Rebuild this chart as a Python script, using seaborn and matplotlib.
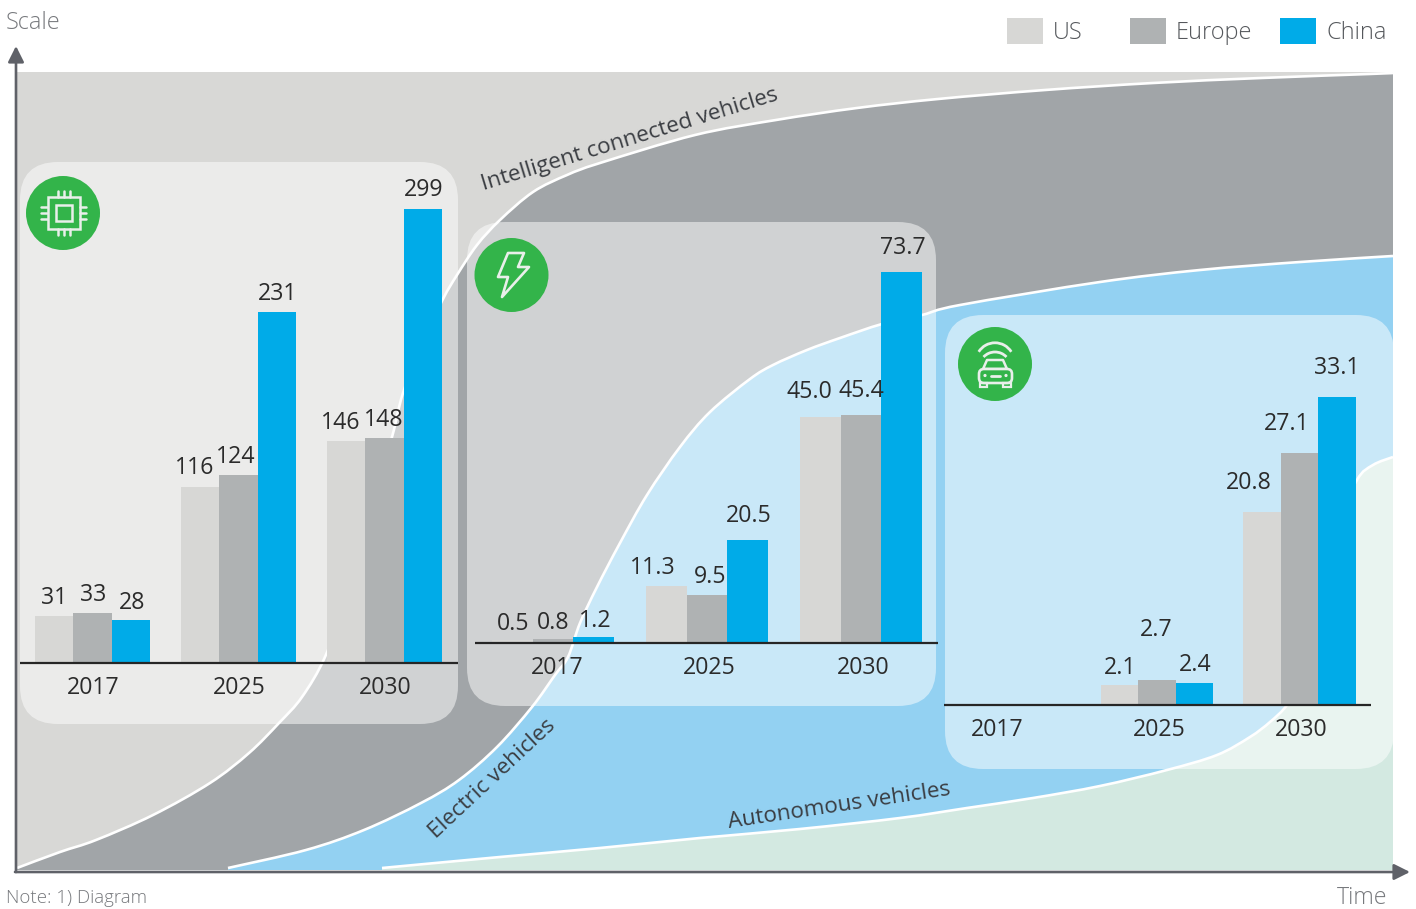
import numpy as np
import pandas as pd
import seaborn as sns
import matplotlib.pyplot as plt
from matplotlib.path import Path
from matplotlib.patches import FancyBboxPatch, Circle, Rectangle, Polygon, Arc, PathPatch

# background curves (pixels)
ICV_X = [17, 60, 96, 153, 210, 249, 279, 302, 325, 345, 370, 392, 403, 423, 443, 457, 477, 500, 533, 567, 600, 695, 776, 857, 938, 1045, 1153, 1261, 1369, 1393]
ICV_Y = [868, 852, 840, 815, 783, 753, 723, 697, 657, 600, 510, 437, 393, 342, 299, 275, 245, 220, 192, 175, 163, 135, 120, 108, 99, 90, 83, 78, 74, 73]
EV_X = [228, 306, 364, 421, 459, 497, 532, 555, 568, 580, 597, 620, 647, 680, 710, 750, 773, 807, 840, 882, 922, 960, 1100, 1200, 1300, 1393]
EV_Y = [868, 850, 830, 803, 780, 747, 707, 675, 657, 623, 587, 543, 495, 447, 412, 379, 365, 350, 338, 324, 315, 305, 282, 270, 262, 256]
AV_X = [382, 500, 600, 700, 800, 900, 967, 1033, 1100, 1167, 1217, 1250, 1270, 1287, 1300, 1318, 1335, 1357, 1373, 1393]
AV_Y = [868, 857, 848, 838, 829, 818, 808, 798, 786, 770, 755, 737, 722, 705, 680, 610, 530, 480, 465, 457]

YEARS = ["2017", "2025", "2030"]
REGIONS = ["US", "Europe", "China"]
COLORS = ["#D7D7D5", "#AFB2B3", "#00ABE8"]

CHIP_US = [31, 116, 146]
CHIP_EU = [33, 124, 148]
CHIP_CN = [28, 231, 299]
EV_US = [0.5, 11.3, 45.0]
EV_EU = [0.8, 9.5, 45.4]
EV_CN = [1.2, 20.5, 73.7]
AV_US = [np.nan, 2.1, 20.8]
AV_EU = [np.nan, 2.7, 27.1]
AV_CN = [np.nan, 2.4, 33.1]

# value label nudges in pixels (dx from bar centre, dy above bar top)
CHIP_DX = [[0.5, -5, -5], [1, -2.5, -0.5], [1, 1, 1]]
CHIP_DY = [[18, 19, 18], [18, 18, 18], [17, 18, 19]]
EV_DX = [[1, -13, -10.5], [0, 3, 0], [1, 1, 1]]
EV_DY = [[16.5, 18, 25], [16, 18, 24], [16, 24, 24]]
AV_DX = [[0, 1, -13], [0, -1, -13], [0, 1, 0]]
AV_DY = [[0, 17.5, 29], [0, 50, 29], [0, 18, 29]]

W, H = 1416, 909
TEXT = "#2B2B2B"
GREY = "#77797D"
AXIS = "#5F6168"
FS = 16.7
BOTTOM = 870

sns.set_theme(style="white")
plt.rcParams["font.family"] = ["Open Sans", "DejaVu Sans"]

fig = plt.figure(figsize=(W / 100, H / 100), dpi=100)
bg = fig.add_axes([0, 0, 1, 1])
bg.set_xlim(0, W)
bg.set_ylim(H, 0)
bg.axis("off")


def smooth_path(xs, ys, close=False):
    # bezier through the read points so the edge does not look polygonal
    pts = np.column_stack([xs, ys]).astype(float)
    verts = [pts[0]]
    codes = [Path.MOVETO]
    for i in range(len(pts) - 1):
        p0 = pts[max(i - 1, 0)]
        p1 = pts[i]
        p2 = pts[i + 1]
        p3 = pts[min(i + 2, len(pts) - 1)]
        verts += [p1 + (p2 - p0) / 6, p2 - (p3 - p1) / 6, p2]
        codes += [Path.CURVE4] * 3
    if close:
        verts += [(xs[-1], BOTTOM), (xs[0], BOTTOM), (xs[0], ys[0])]
        codes += [Path.LINETO, Path.LINETO, Path.CLOSEPOLY]
    return Path(verts, codes)


# stacked areas
bg.fill_between([17, 1393], 72, BOTTOM, color="#D8D8D6", lw=0)
for xs, ys, col in [(ICV_X, ICV_Y, "#A1A5A8"), (EV_X, EV_Y, "#93D1F2"), (AV_X, AV_Y, "#D3E9E1")]:
    bg.add_patch(PathPatch(smooth_path(xs, ys, close=True), fc=col, ec="none", zorder=1))
for xs, ys in [(ICV_X, ICV_Y), (EV_X, EV_Y), (AV_X, AV_Y)]:
    bg.add_patch(PathPatch(smooth_path(xs, ys), fc="none", ec="white", lw=1.9, zorder=2))

# see-through panels
for x0, y0, x1, y1 in [(20, 162, 458, 724), (467, 222, 936, 706), (945, 315, 1394, 769)]:
    r = 38
    bg.add_patch(FancyBboxPatch((x0 + r, y0 + r), x1 - x0 - 2 * r, y1 - y0 - 2 * r,
                                boxstyle=f"round,pad={r},rounding_size={r}",
                                fc="white", ec="none", alpha=0.5, zorder=3))

# arrows
for start, end in [((16, 872), (16, 46)), ((15, 872), (1410, 872))]:
    bg.annotate("", xy=end, xytext=start, zorder=4,
                arrowprops=dict(arrowstyle="-|>", color=AXIS, lw=1.9, mutation_scale=24, shrinkA=0, shrinkB=0))

# icons
ICON = "#E9EFEA"
GREEN = "#33B44A"
for cx, cy in [(63, 213), (511.5, 275), (995, 364)]:
    bg.add_patch(Circle((cx, cy), 37, fc=GREEN, ec="none", zorder=5))

bg.add_patch(Rectangle((47.5, 197), 32, 32, fc="none", ec=ICON, lw=1.8, zorder=6))
bg.add_patch(Rectangle((55.5, 205), 16, 16, fc="none", ec=ICON, lw=1.8, zorder=6))
for off in [-6, 0, 6]:
    bg.plot([63.5 + off, 63.5 + off], [191, 197], color=ICON, lw=1.8, zorder=6)
    bg.plot([63.5 + off, 63.5 + off], [229, 235], color=ICON, lw=1.8, zorder=6)
    bg.plot([41, 47], [213 + off, 213 + off], color=ICON, lw=1.8, zorder=6)
    bg.plot([80, 86], [213 + off, 213 + off], color=ICON, lw=1.8, zorder=6)

bolt = [(508, 253), (524, 253), (518, 267), (529, 267), (502, 297), (508, 277), (498, 277)]
bg.add_patch(Polygon(bolt, closed=True, fc="none", ec=ICON, lw=1.9, joinstyle="round", zorder=6))

# car with signal arcs
bg.add_patch(Arc((995, 362), 38.4, 38.4, theta1=212, theta2=328, ec=ICON, lw=2, zorder=6))
bg.add_patch(Arc((995, 367.7), 31.4, 31.4, theta1=223, theta2=317, ec=ICON, lw=2, zorder=6))
bg.add_patch(Polygon([(987, 360), (1003, 360), (1007, 369), (983, 369)], closed=True, fc="none", ec=ICON, lw=1.8,
                     joinstyle="round", zorder=6))
bg.add_patch(FancyBboxPatch((983, 373), 25, 6, boxstyle="round,pad=4,rounding_size=5", fc=GREEN, ec=ICON, lw=1.9, zorder=6))
bg.add_patch(Rectangle((980, 383), 7, 4, fc="none", ec=ICON, lw=1.6, zorder=6))
bg.add_patch(Rectangle((1003, 383), 8, 4, fc="none", ec=ICON, lw=1.6, zorder=6))
bg.plot([991, 1000], [375.5, 375.5], color=ICON, lw=2, zorder=6)
bg.add_patch(Circle((985, 375.5), 1.6, fc=ICON, ec="none", zorder=6))
bg.add_patch(Circle((1006, 375.5), 1.6, fc=ICON, ec="none", zorder=6))

# curve names and axis words
for txt, x, y, rot in [("Intelligent connected vehicles", 630, 140, 17),
                       ("Electric vehicles", 492, 779, 43),
                       ("Autonomous vehicles", 839, 806, 8.5)]:
    bg.text(x, y, txt, rotation=rot, ha="center", va="center", fontsize=16.2, color="#3A3D42",
            zorder=4, rotation_mode="anchor")
bg.text(6, 23, "Scale", ha="left", va="center", fontsize=16.9, color=GREY, fontweight="light")
bg.text(1387, 898.5, "Time", ha="right", va="center", fontsize=16.7, color=GREY, fontweight="light")
bg.text(6, 898, "Note: 1) Diagram", ha="left", va="center", fontsize=13.4, color=GREY, fontweight="light")

# legend, the gaps are not even so no fig.legend here
for label, col, px, tx in zip(REGIONS, COLORS, [1007, 1130, 1280], [1053, 1176, 1326]):
    bg.add_patch(Rectangle((px, 18), 35.5, 26, fc=col, ec="none"))
    bg.text(tx, 33, label, ha="left", va="center", fontsize=16.9, color="#55585C", fontweight="light")


def draw_panel(us, eu, cn, left, right, baseline, c0, spacing, width, px_per_unit, dxs, dys, fmt, ticks):
    top = baseline - 500
    rect = [left / W, (H - baseline) / H, (right - left) / W, (baseline - top) / H]
    ax = fig.add_axes(rect, facecolor="none")
    data = pd.DataFrame({
        "year": YEARS * 3,
        "region": [r for r in REGIONS for _ in YEARS],
        "value": list(us) + list(eu) + list(cn),
    })
    sns.barplot(data=data, x="year", y="value", hue="region", order=YEARS, hue_order=REGIONS,
                palette=COLORS, width=width, saturation=1, errorbar=None, legend=False, linewidth=0, ax=ax)
    ax.set_xlim((left - c0) / spacing, (right - c0) / spacing)
    ax.set_ylim(0, (baseline - top) / px_per_unit)
    ax.set_xlabel("")
    ax.set_ylabel("")
    ax.set_yticks([])
    ax.set_xticks(ticks)
    ax.set_xticklabels(YEARS, fontsize=FS, color=TEXT)
    ax.tick_params(axis="x", length=0, pad=9.2)
    for name in ["top", "left", "right"]:
        ax.spines[name].set_visible(False)
    ax.spines["bottom"].set_color("#262626")
    ax.spines["bottom"].set_linewidth(1.6)
    ax.spines["bottom"].set_capstyle("butt")
    ax.patch.set_alpha(0)

    for i, (vals, container) in enumerate(zip([us, eu, cn], ax.containers)):
        for bar in container:
            pos = int(round(bar.get_x() + bar.get_width() / 2))
            if np.isnan(vals[pos]):
                continue
            ax.annotate(fmt.format(vals[pos]),
                        xy=(bar.get_x() + bar.get_width() / 2, vals[pos]),
                        xytext=(dxs[i][pos], dys[i][pos]), textcoords="offset pixels",
                        ha="center", va="center", fontsize=FS, color=TEXT, annotation_clip=False)
    return ax


draw_panel(CHIP_US, CHIP_EU, CHIP_CN, 20, 458, 663, 92.5, 146, 0.79, 1.518, CHIP_DX, CHIP_DY, "{:.0f}", [0.007, 1.007, 2.007])
draw_panel(EV_US, EV_EU, EV_CN, 475, 938, 643, 553, 154, 0.795, 5.03, EV_DX, EV_DY, "{:.1f}", [0.03, 1.013, 2.013])
draw_panel(AV_US, AV_EU, AV_CN, 944, 1371, 705, 1014.5, 142.5, 0.79, 9.3, AV_DX, AV_DY, "{:.1f}", [-0.12, 1.013, 2.01])

fig.savefig("out.png", dpi=100)
